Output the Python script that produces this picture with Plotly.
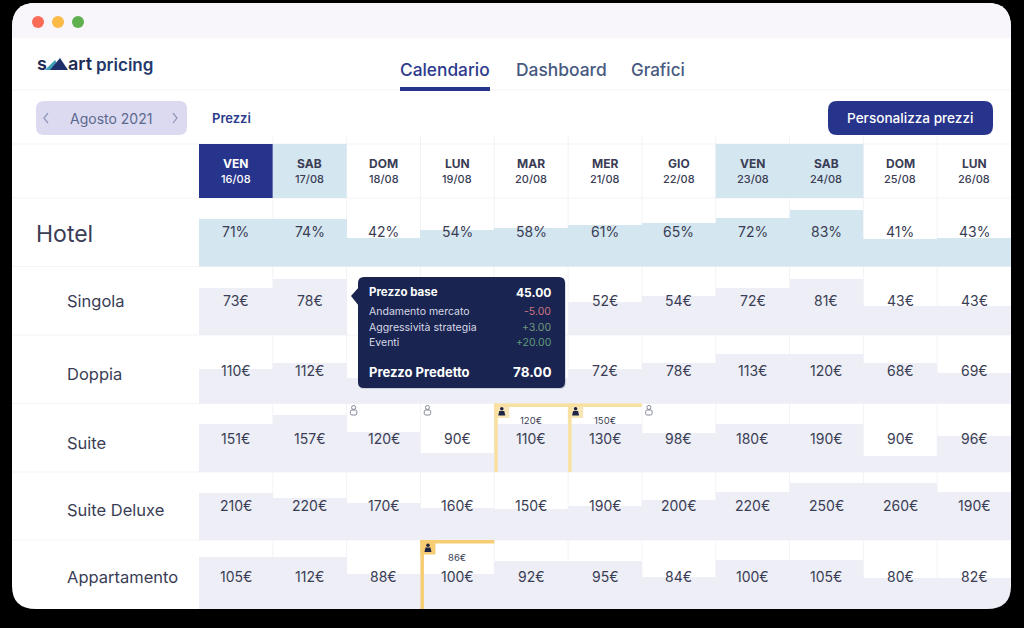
import re
import plotly.graph_objects as go

W, H = 1024, 628

# columns
days = ['VEN', 'SAB', 'DOM', 'LUN', 'MAR', 'MER', 'GIO', 'VEN', 'SAB', 'DOM', 'LUN']
dates = ['16/08', '17/08', '18/08', '19/08', '20/08', '21/08', '22/08', '23/08', '24/08', '25/08', '26/08']

# rows, top to bottom
rows = ['Hotel', 'Singola', 'Doppia', 'Suite', 'Suite Deluxe', 'Appartamento']
row_label_y = [234, 301, 374, 443, 510, 577]
row_edges = [198, 266.5, 335, 403.5, 472, 540, 609]

# bar heights (None = hidden behind the tooltip)
hotel_fill = [48, 48, 29, 37, 39, 42, 44, 49, 57, 28, 29]
singola_fill = [48, 57, None, None, None, 34, 40, 48, 57, 30, 30]
doppia_fill = [35, 41, 26, 26, 26, 35, 41, 50, 50, 41, 31]
suite_fill = [49, 58, 41, 20, 49, 49, 40, 49, 49, 17, 37]
deluxe_fill = [47, 42, 37, 32, 31, 34, 40, 48, 57, 57, 48]
appart_fill = [52, 52, 35, 35, 48, 48, 32, 49, 49, 31, 31]
row_fills = [hotel_fill, singola_fill, doppia_fill, suite_fill, deluxe_fill, appart_fill]

# cell labels (None = hidden behind the tooltip)
hotel_text = ['71%', '74%', '42%', '54%', '58%', '61%', '65%', '72%', '83%', '41%', '43%']
singola_text = ['73€', '78€', None, None, None, '52€', '54€', '72€', '81€', '43€', '43€']
doppia_text = ['110€', '112€', None, None, None, '72€', '78€', '113€', '120€', '68€', '69€']
suite_text = ['151€', '157€', '120€', '90€', '110€', '130€', '98€', '180€', '190€', '90€', '96€']
deluxe_text = ['210€', '220€', '170€', '160€', '150€', '190€', '200€', '220€', '250€', '260€', '190€']
appart_text = ['105€', '112€', '88€', '100€', '92€', '95€', '84€', '100€', '105€', '80€', '82€']
row_texts = [hotel_text, singola_text, doppia_text, suite_text, deluxe_text, appart_text]
text_y = [232, 301, 370, 438, 505, 576]

# tooltip
tip_rows = ['Prezzo base', 'Andamento mercato', 'Aggressività strategia', 'Eventi', 'Prezzo Predetto']
tip_vals = ['45.00', '-5.00', '+3.00', '+20.00', '78.00']
tip_colors = ['#ffffff', '#c9757f', '#6f9a7c', '#5f9a78', '#ffffff']
tip_y = [292, 311, 327, 342, 372]

# flagged cells: (row, column, old price)
flagged = [(3, 4, '120€'), (3, 5, '150€'), (5, 3, '86€')]
outlined = [(3, 2), (3, 3), (3, 6)]

FONT = 'Inter'
NAVY = '#27348b'
INK = '#3a3d55'
BAR = '#edeef6'
SKY = '#d4e6ef'
X0, X1 = 199, 1011
COL = (X1 - X0) / len(days)


def rx(x):
    return x / W


def ry(y):
    return 1 - y / H


def to_paper(d):
    # the page furniture is sketched in pixels, shapes want paper coordinates
    def conv(m):
        return f'{rx(float(m.group(1))):.5f},{ry(float(m.group(2))):.5f}'
    return re.sub(r'(-?[\d.]+),(-?[\d.]+)', conv, d)


def rounded(x0, y0, x1, y1, r):
    return (f'M{x0 + r},{y0} L{x1 - r},{y0} Q{x1},{y0} {x1},{y0 + r} L{x1},{y1 - r} Q{x1},{y1} {x1 - r},{y1} '
            f'L{x0 + r},{y1} Q{x0},{y1} {x0},{y1 - r} L{x0},{y0 + r} Q{x0},{y0} {x0 + r},{y0} Z')


def box(x0, y0, x1, y1, color, layer='above'):
    return dict(type='rect', xref='paper', yref='paper', x0=rx(x0), x1=rx(x1), y0=ry(y0), y1=ry(y1), layer=layer,
                fillcolor=color, line_width=0)


def dot(x0, y0, x1, y1, color, layer='above', line=None, width=0):
    return dict(type='circle', xref='paper', yref='paper', x0=rx(x0), x1=rx(x1), y0=ry(y0), y1=ry(y1), layer=layer,
                fillcolor=color, line=dict(color=line or 'rgba(0,0,0,0)', width=width))


def path(d, color, layer='above', line=None, width=1):
    return dict(type='path', xref='paper', yref='paper', path=to_paper(d), layer=layer, fillcolor=color,
                line=dict(color=line or 'rgba(0,0,0,0)', width=width if line else 0))


def label(x, y, text, size, color=INK, anchor='center', weight=400):
    shift = {'left': -2, 'right': 2, 'center': 0}[anchor]
    return dict(xref='paper', yref='paper', x=rx(x + shift), y=ry(y), text=text, showarrow=False, xanchor=anchor,
                yanchor='middle', font=dict(family=FONT, size=size, color=color, weight=weight))


def person(cx, cy, color):
    shapes.append(dot(cx - 1.8, cy - 4.5, cx + 1.8, cy - 1, color))
    shapes.append(path(f'M{cx - 3.5},{cy + 4} L{cx - 2.5},{cy - 0.5} L{cx + 2.5},{cy - 0.5} L{cx + 3.5},{cy + 4} Z', color))


def person_outline(cx, cy):
    shapes.append(dot(cx - 2, cy - 5, cx + 2, cy - 1, 'rgba(0,0,0,0)', line='#777a8c', width=0.9))
    shapes.append(path(rounded(cx - 3.2, cy - 0.5, cx + 3.2, cy + 4.5, 1.5), 'rgba(0,0,0,0)', line='#777a8c', width=0.9))


fig = go.Figure()
layout_axes = {}

# one y axis per row, all on the same day axis
for i, (name, fill) in enumerate(zip(rows, row_fills)):
    axis = 'yaxis' if i == 0 else f'yaxis{i + 1}'
    top, bottom = row_edges[i], row_edges[i + 1]
    layout_axes[axis] = dict(domain=[ry(bottom), ry(top)], range=[0, bottom - top], visible=False, fixedrange=True,
                             anchor='x')
    fig.add_trace(go.Bar(
        x=dates, y=fill, name=name, width=1, yaxis='y' if i == 0 else f'y{i + 1}',
        marker=dict(color=SKY if i == 0 else BAR, line_width=0), hoverinfo='skip', showlegend=False,
    ))

shapes = []
annotations = []

# window
shapes.append(path(rounded(12, 3, 1011, 640, 24), '#ffffff', 'below'))
shapes.append(path('M12,38 L12,27 Q12,3 36,3 L987,3 Q1011,3 1011,27 L1011,38 Z', '#f8f6fb', 'below'))
for cx, color in zip([38, 58, 78], ['#fb6b55', '#fbb946', '#5fb04f']):
    shapes.append(dot(cx - 6, 16, cx + 6, 28, color, 'below'))

# rules
for y in [90, 144, 198] + row_edges[1:-1]:
    shapes.append(box(12, y - 0.5, 1011, y + 0.5, '#f4f4f8', 'below'))
for j in range(1, len(days)):
    x = X0 + j * COL
    shapes.append(box(x - 0.5, 136, x + 0.5, 609, '#f3f3f7', 'below'))

# header cells
shapes.append(box(X0, 144, X0 + COL, 198, NAVY, 'below'))
shapes.append(box(X0 + COL, 144, X0 + 2 * COL, 198, SKY, 'below'))
shapes.append(box(X0 + 7 * COL, 144, X0 + 9 * COL, 198, SKY, 'below'))
for j, (day, date) in enumerate(zip(days, dates)):
    cx = X0 + (j + 0.5) * COL
    color = '#ffffff' if j == 0 else INK
    annotations.append(label(cx, 164, day, 12, color, weight=700))
    annotations.append(label(cx, 179, date, 11, color, weight=500))

# top bar
annotations.append(label(37, 64, 's', 18, '#1d2b53', 'left', 600))
shapes.append(path('M45,70 L55,60 L61,70 Z', '#3f9fb5'))
shapes.append(path('M50,70 L60,58 L68,70 Z', '#1f2f6b'))
annotations.append(label(68, 64, 'art', 18, '#1d2b53', 'left', 600))
annotations.append(label(96, 65, 'pricing', 17, '#24386b', 'left', 600))
annotations.append(label(445, 70, 'Calendario', 17.3, '#2c3a8c', weight=500))
annotations.append(label(561.5, 70, 'Dashboard', 17.4, '#47597f', weight=500))
annotations.append(label(658, 70, 'Grafici', 17, '#47597f', weight=500))
shapes.append(box(400, 87, 490, 91, NAVY))

# toolbar
shapes.append(path(rounded(36, 101, 187, 135, 8), '#dcdaf1', 'below'))
annotations.append(label(111, 118, 'Agosto 2021', 14, '#5b688f'))
shapes.append(path('M48,113 L44,118 L48,123', 'rgba(0,0,0,0)', line='#8d93b5', width=1.2))
shapes.append(path('M173,113 L177,118 L173,123', 'rgba(0,0,0,0)', line='#8d93b5', width=1.2))
annotations.append(label(212, 118, 'Prezzi', 13, '#2c3a8c', 'left', 600))
shapes.append(path(rounded(828, 101, 993, 135, 9), NAVY))
annotations.append(label(910.5, 118, 'Personalizza prezzi', 13.6, '#ffffff', weight=500))

# row names and values
for i, (name, y) in enumerate(zip(rows, row_label_y)):
    if i == 0:
        annotations.append(label(36, y, name, 23, INK, 'left'))
    else:
        annotations.append(label(67, y, name, 16.5, INK, 'left'))
    for j, text in enumerate(row_texts[i]):
        if text is not None:
            annotations.append(label(X0 + (j + 0.5) * COL, text_y[i], text, 14, INK))

# flagged cells
for r, c, old in flagged:
    x0, y0, y1 = X0 + c * COL, row_edges[r], row_edges[r + 1]
    x1 = x0 + COL
    edge = '#f6cd72' if r == 5 else '#f8e0a0'
    shapes.append(box(x0, y0, x0 + 15, y0 + 14.5, '#f8e6b8' if r == 3 else edge))
    shapes.append(box(x0, y0, x1, y0 + 3.5, edge))
    shapes.append(box(x0, y0, x0 + 3.5, y1, edge))
    person(x0 + 7.5, y0 + 8, '#1d2545')
    annotations.append(label(x0 + COL / 2, y0 + 17, old, 9.5, INK))
for r, c in outlined:
    person_outline(X0 + c * COL + 7, row_edges[r] + 7)

# tooltip
shapes.append(path(rounded(358, 278, 566, 389, 6), 'rgba(26,36,80,0.15)'))
shapes.append(path('M359,287 L351,296 L359,306 Z', '#1a2450'))
shapes.append(path(rounded(358, 277, 565, 388, 6), '#1a2450'))
for i, (name, val, color, y) in enumerate(zip(tip_rows, tip_vals, tip_colors, tip_y)):
    big = i in (0, 4)
    size = (11.5 if i == 0 else 13) if big else 10.5
    annotations.append(label(369, y, name, size, '#ffffff' if big else '#d6d9e6', 'left', 700 if big else 400))
    annotations.append(label(551, y, val, size + 0.5 if big else 10.5, color, 'right', 700 if big else 400))

# rounded bottom corners cut the bars
shapes.append(path('M12,612 L12,586 Q12,609 36,609 Z', '#000000'))
shapes.append(path('M1011,612 L1011,586 Q1011,609 987,609 Z', '#000000'))
shapes.append(box(0, 609, W, H, '#000000'))

fig.update_layout(
    width=W, height=H, margin=dict(l=0, r=0, t=0, b=0), paper_bgcolor='#000000', plot_bgcolor='rgba(0,0,0,0)',
    bargap=0, showlegend=False, shapes=shapes, annotations=annotations, hovermode=False,
    xaxis=dict(domain=[rx(X0), rx(X1)], type='category', categoryorder='array', categoryarray=dates, visible=False,
               fixedrange=True),
    **layout_axes,
)

fig.write_html('out.html', config=dict(displayModeBar=False),
               post_script="document.body.style.margin='0';document.body.style.background='#000';")
